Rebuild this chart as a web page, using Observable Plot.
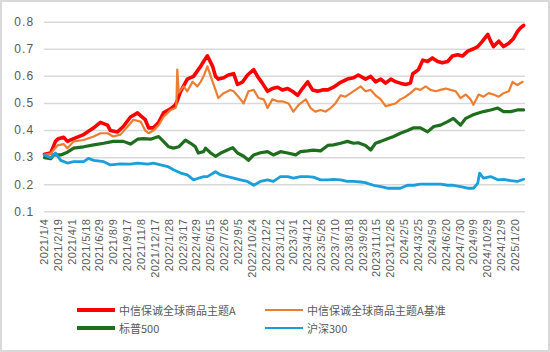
<!DOCTYPE html>
<html><head><meta charset="utf-8">
<script src="https://cdn.jsdelivr.net/npm/d3@7"></script>
<script src="https://cdn.jsdelivr.net/npm/@observablehq/plot@0.6"></script>
<style>
body{margin:0;background:#fff;}
#wrap{position:relative;width:550px;height:352px;box-sizing:border-box;border:2px solid #d9d9d9;background:#fff;overflow:hidden;}
#wrap svg{position:absolute;left:0;top:0;}
.leg{position:absolute;font-family:"Noto Sans CJK SC",sans-serif;font-size:11px;color:#595959;white-space:nowrap;line-height:12px;}
.sw{position:absolute;width:38px;}
</style></head><body><div id="wrap"></div>
<script>
const xLabels = ["2021/1/4","2021/2/19","2021/4/1","2021/5/18","2021/6/29","2021/8/9","2021/9/17","2021/11/8","2021/12/17","2022/1/28","2022/3/17","2022/4/29","2022/6/15","2022/7/26","2022/9/5","2022/10/24","2022/12/2","2023/1/12","2023/3/1","2023/4/12","2023/5/26","2023/7/10","2023/8/18","2023/9/28","2023/11/15","2023/12/26","2024/2/5","2024/3/25","2024/5/9","2024/6/20","2024/7/30","2024/9/9","2024/10/29","2024/12/9","2025/1/20"];
const labelStep = 29;       // trading days between category labels
const lastDay = 1007;
const yTicks = [0.1,0.2,0.3,0.4,0.5,0.6,0.7,0.8];

// [trading-day index, value]
const fundA = [[0,0.312],[13,0.317],[23,0.36],[29,0.37],[40,0.375],[48,0.36],[61,0.37],[82,0.385],[103,0.41],[117,0.43],[132,0.42],[138,0.40],[153,0.395],[165,0.415],[180,0.45],[195,0.465],[201,0.455],[211,0.44],[218,0.41],[228,0.41],[239,0.43],[249,0.465],[264,0.48],[274,0.495],[278,0.51],[285,0.545],[299,0.59],[312,0.60],[322,0.625],[327,0.637],[333,0.655],[341,0.676],[352,0.637],[358,0.60],[364,0.59],[375,0.595],[385,0.605],[396,0.61],[404,0.57],[415,0.58],[425,0.605],[438,0.625],[446,0.60],[456,0.575],[467,0.545],[477,0.555],[488,0.56],[498,0.55],[509,0.555],[519,0.545],[530,0.53],[540,0.555],[551,0.58],[561,0.55],[572,0.545],[582,0.55],[593,0.55],[605,0.56],[620,0.578],[634,0.59],[647,0.595],[657,0.605],[672,0.59],[683,0.60],[693,0.58],[704,0.59],[714,0.575],[725,0.59],[735,0.58],[745,0.575],[756,0.57],[766,0.575],[771,0.61],[783,0.625],[792,0.66],[802,0.655],[812,0.668],[823,0.655],[833,0.65],[844,0.655],[854,0.675],[865,0.68],[875,0.675],[886,0.693],[896,0.70],[907,0.71],[917,0.73],[928,0.755],[934,0.73],[940,0.71],[951,0.73],[961,0.71],[972,0.722],[982,0.74],[990,0.765],[997,0.78],[1003,0.788]];
const fundABench = [[0,0.31],[13,0.315],[27,0.345],[40,0.35],[48,0.335],[61,0.36],[82,0.365],[103,0.378],[117,0.39],[132,0.39],[144,0.378],[159,0.385],[174,0.415],[186,0.44],[201,0.433],[211,0.40],[218,0.39],[228,0.40],[239,0.42],[249,0.45],[264,0.476],[274,0.483],[276,0.49],[278,0.625],[281,0.54],[291,0.563],[299,0.545],[310,0.58],[320,0.563],[327,0.58],[333,0.60],[341,0.637],[352,0.58],[358,0.55],[364,0.52],[375,0.538],[389,0.55],[396,0.545],[406,0.525],[417,0.50],[427,0.545],[438,0.55],[448,0.52],[459,0.515],[467,0.483],[477,0.515],[488,0.508],[498,0.508],[511,0.50],[521,0.47],[532,0.495],[547,0.515],[557,0.483],[567,0.47],[578,0.476],[588,0.47],[599,0.483],[609,0.50],[620,0.53],[630,0.525],[641,0.538],[655,0.555],[662,0.563],[672,0.545],[683,0.55],[693,0.53],[704,0.515],[714,0.49],[725,0.495],[735,0.50],[745,0.515],[756,0.525],[766,0.538],[777,0.555],[787,0.55],[798,0.563],[808,0.55],[819,0.545],[829,0.55],[840,0.555],[850,0.55],[861,0.545],[871,0.52],[882,0.533],[892,0.515],[898,0.495],[909,0.533],[919,0.525],[930,0.538],[940,0.533],[951,0.525],[961,0.538],[972,0.545],[980,0.58],[990,0.568],[1001,0.58]];
const sp500 = [[0,0.30],[13,0.296],[19,0.31],[34,0.31],[48,0.32],[61,0.335],[82,0.34],[103,0.347],[124,0.353],[144,0.36],[165,0.36],[180,0.35],[195,0.368],[207,0.37],[222,0.368],[239,0.378],[249,0.36],[260,0.34],[270,0.335],[281,0.34],[295,0.365],[306,0.353],[316,0.34],[322,0.317],[333,0.322],[337,0.335],[348,0.317],[358,0.305],[369,0.317],[383,0.328],[394,0.337],[404,0.317],[417,0.305],[427,0.29],[438,0.31],[452,0.318],[467,0.322],[479,0.31],[494,0.322],[509,0.317],[526,0.31],[536,0.322],[551,0.325],[563,0.328],[578,0.325],[593,0.345],[605,0.347],[620,0.353],[634,0.36],[647,0.353],[657,0.355],[672,0.345],[683,0.328],[693,0.353],[704,0.36],[718,0.37],[731,0.378],[745,0.39],[760,0.40],[773,0.41],[787,0.41],[802,0.395],[815,0.415],[829,0.42],[844,0.433],[856,0.445],[871,0.42],[882,0.445],[896,0.457],[907,0.464],[919,0.47],[934,0.476],[949,0.483],[961,0.47],[976,0.47],[990,0.476],[1003,0.476]];
const csi300 = [[0,0.31],[13,0.30],[23,0.317],[34,0.29],[48,0.28],[61,0.285],[82,0.285],[92,0.297],[103,0.29],[124,0.285],[138,0.273],[159,0.277],[180,0.276],[195,0.28],[216,0.276],[228,0.28],[243,0.273],[258,0.267],[270,0.255],[285,0.243],[299,0.236],[312,0.218],[322,0.224],[333,0.23],[341,0.23],[358,0.248],[369,0.236],[383,0.23],[396,0.224],[410,0.218],[425,0.212],[438,0.198],[452,0.212],[467,0.218],[479,0.212],[494,0.23],[509,0.23],[521,0.224],[536,0.23],[551,0.23],[563,0.228],[578,0.218],[593,0.218],[605,0.22],[620,0.218],[634,0.212],[647,0.212],[662,0.21],[672,0.208],[676,0.205],[689,0.198],[704,0.193],[718,0.187],[731,0.187],[745,0.187],[760,0.198],[773,0.198],[787,0.202],[802,0.202],[815,0.202],[829,0.202],[844,0.198],[856,0.198],[871,0.193],[886,0.187],[898,0.187],[907,0.205],[911,0.243],[919,0.224],[934,0.23],[949,0.218],[961,0.22],[976,0.215],[990,0.212],[1003,0.22]];

const seriesNames = ["中信保诚全球商品主题A","中信保诚全球商品主题A基准","标普500","沪深300"];
const seriesColors = ["#ff0000","#ed7d31","#1e6e1e","#1a9fda"];
const seriesWidths = [3.6,2.2,3.2,2.8];
const seriesData = [fundA, fundABench, sp500, csi300];

const xTickIdx = xLabels.map((_, i) => i * labelStep);

const lineMarks = seriesData.map((arr, k) =>
  Plot.line(arr, {x: d => d[0], y: d => d[1], stroke: seriesColors[k], strokeWidth: seriesWidths[k], strokeLinejoin: "round", strokeLinecap: "round"})
);

const chart = Plot.plot({
  width: 546, height: 285,
  marginLeft: 42, marginRight: 23, marginTop: 19.7, marginBottom: 75.7,
  style: {fontFamily: '"Liberation Sans", Arial, sans-serif', fontSize: "11px", color: "#595959", background: "#fff"},
  x: {type: "linear", domain: [0, lastDay], axis: null},
  y: {domain: [0.1, 0.8], axis: null},
  marks: [
    Plot.gridY(yTicks, {stroke: "#d9d9d9", strokeOpacity: 1, strokeWidth: 1.5}),
    Plot.axisY(yTicks, {tickSize: 0, tickPadding: 10, tickFormat: d => d.toFixed(1), fill: "#595959", fontSize: 12}),
    Plot.axisX(xTickIdx, {tickSize: 0, tickPadding: 7, tickRotate: -90, tickFormat: d => xLabels[Math.round(d / labelStep)], fill: "#595959", fontSize: 11}),
    ...lineMarks
  ]
});
d3.select(chart).selectAll('[aria-label="x-axis tick label"] text').attr("letter-spacing", "0.4px");
d3.select(chart).selectAll('[aria-label="y-axis tick label"] text').attr("letter-spacing", "1.2px");

const wrap = document.getElementById("wrap");
wrap.appendChild(chart);

// legend (HTML, below the svg)
const legPos = [[75, 306], [263, 306], [75, 324], [263, 324]];
seriesNames.forEach((name, k) => {
  const [lx, ly] = legPos[k];
  const sw = document.createElement("div");
  sw.className = "sw";
  sw.style.left = lx + "px";
  sw.style.top = (ly + 2 - seriesWidths[k] / 2) + "px";
  sw.style.height = seriesWidths[k] + "px";
  sw.style.background = seriesColors[k];
  wrap.appendChild(sw);
  const t = document.createElement("div");
  t.className = "leg";
  t.style.left = (lx + 42) + "px";
  t.style.top = (ly - 4) + "px";
  t.textContent = name;
  wrap.appendChild(t);
});
</script></body></html>
